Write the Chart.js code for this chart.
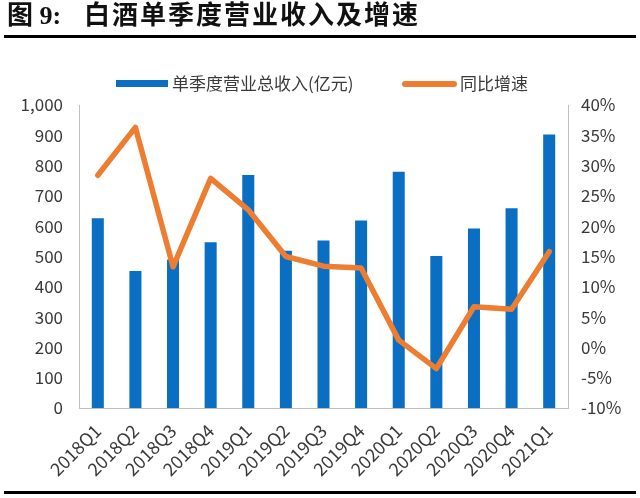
<!DOCTYPE html>
<html>
<head>
<meta charset="utf-8">
<script src="https://cdn.jsdelivr.net/npm/chart.js@4/dist/chart.umd.min.js"></script>
<style>
  html, body { margin: 0; padding: 0; background: #fff; }
  #wrap { position: relative; width: 640px; height: 498px; }
</style>
</head>
<body>
<div id="wrap"><canvas id="c" width="640" height="498"></canvas></div>
<script>
const categories = ["2018Q1","2018Q2","2018Q3","2018Q4","2019Q1","2019Q2","2019Q3","2019Q4","2020Q1","2020Q2","2020Q3","2020Q4","2021Q1"];
const revenue = [626, 452, 490, 547, 769, 519, 553, 619, 780, 502, 592, 659, 903];
const growth = [28.4, 36.3, 13.3, 27.9, 22.7, 15.0, 13.4, 13.1, 1.2, -3.5, 6.7, 6.3, 15.8];
const leftTicks = [0, 100, 200, 300, 400, 500, 600, 700, 800, 900, 1000];
const rightTicks = [-10, -5, 0, 5, 10, 15, 20, 25, 30, 35, 40];
const titleLabel = "图 9:";
const titleText = "白酒单季度营业收入及增速";
const seriesNames = ["单季度营业总收入(亿元)", "同比增速"];

const BLUE = "#0A6EC2";
const ORANGE = "#ED7D31";
const TXT = "#3a3a3a";
const FONT = "'Noto Sans CJK SC', 'Noto Sans', sans-serif";
const TFONT = "'Liberation Serif', 'Noto Sans CJK SC', serif";

const decor = {
  id: "decor",
  afterDraw(chart) {
    const ctx = chart.ctx;
    ctx.save();
    // Title
    ctx.fillStyle = "#111";
    ctx.textBaseline = "middle";
    ctx.textAlign = "left";
    ctx.font = "bold 26px " + TFONT;
    ctx.fillText(titleLabel, 7, 17);
    ctx.letterSpacing = "2px";
    ctx.fillText(titleText, 84, 17);
    ctx.letterSpacing = "0px";
    // rules
    ctx.fillStyle = "#000";
    ctx.fillRect(4, 35, 632, 3);
    ctx.fillRect(4, 491, 632, 3);
    // Legend
    ctx.fillStyle = BLUE;
    ctx.fillRect(116, 80, 52, 7);
    ctx.fillStyle = TXT;
    ctx.font = "17px " + FONT;
    ctx.fillText(seriesNames[0], 172, 84);
    ctx.strokeStyle = ORANGE;
    ctx.lineWidth = 6;
    ctx.lineCap = "round";
    ctx.beginPath();
    ctx.moveTo(405, 84);
    ctx.lineTo(454, 84);
    ctx.stroke();
    ctx.fillText(seriesNames[1], 460, 84);
    ctx.restore();
  }
};

new Chart(document.getElementById("c"), {
  data: {
    labels: categories,
    datasets: [
      {
        type: "line",
        label: seriesNames[1],
        data: growth,
        yAxisID: "y2",
        borderColor: ORANGE,
        backgroundColor: ORANGE,
        borderWidth: 5.5,
        borderJoinStyle: "round",
        borderCapStyle: "round",
        pointRadius: 0,
        tension: 0,
        order: 0
      },
      {
        type: "bar",
        label: seriesNames[0],
        data: revenue,
        yAxisID: "y",
        backgroundColor: BLUE,
        categoryPercentage: 1,
        barPercentage: 0.32,
        order: 1
      }
    ]
  },
  options: {
    responsive: false,
    animation: false,
    layout: { padding: { top: 105, left: 0, right: 0, bottom: 0 } },
    plugins: { legend: { display: false }, tooltip: { enabled: false } },
    scales: {
      x: {
        grid: { display: false, drawTicks: false },
        border: { display: true, color: "#BFBFBF", width: 1 },
        ticks: {
          color: TXT, font: { family: FONT, size: 18 },
          maxRotation: 45, minRotation: 45, autoSkip: false, padding: 12
        },
        afterFit(s) { s.height = 90; }
      },
      y: {
        position: "left",
        min: 0, max: 1000,
        afterBuildTicks(s) { s.ticks = leftTicks.map(v => ({ value: v })); },
        grid: { display: false, drawTicks: false },
        border: { display: true, color: "#BFBFBF", width: 1 },
        ticks: {
          color: TXT, font: { family: FONT, size: 17 }, padding: 16,
          callback: v => v.toLocaleString("en-US")
        },
        afterFit(s) { s.width = 79; }
      },
      y2: {
        position: "right",
        min: -10, max: 40,
        afterBuildTicks(s) { s.ticks = rightTicks.map(v => ({ value: v })); },
        grid: { display: false, drawTicks: false },
        border: { display: true, color: "#BFBFBF", width: 1 },
        ticks: {
          color: TXT, font: { family: FONT, size: 17 }, padding: 13,
          callback: v => v + "%"
        },
        afterFit(s) { s.width = 72; }
      }
    }
  },
  plugins: [decor]
});
</script>
</body>
</html>
